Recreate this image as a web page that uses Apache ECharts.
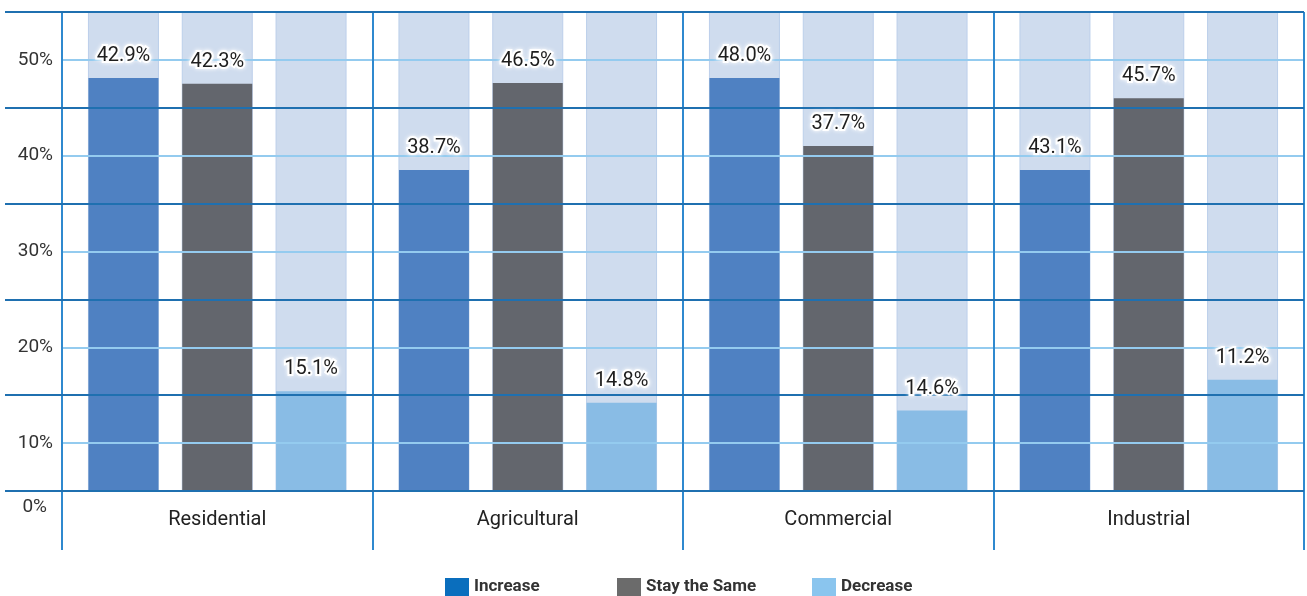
<!DOCTYPE html>
<html>
<head>
<meta charset="utf-8">
<script src="https://cdn.jsdelivr.net/npm/echarts@6/dist/echarts.min.js"></script>
<style>html,body{margin:0;padding:0;background:#fff}#c{width:1307px;height:596px}</style>
</head>
<body>
<div id="c"></div>
<script>
const categories = ['Residential', 'Agricultural', 'Commercial', 'Industrial'];
const seriesNames = ['Increase', 'Stay the Same', 'Decrease'];
// bar heights as drawn in the picture (percent)
const increaseValues = [43.1, 33.5, 43.1, 33.5];
const stayValues = [42.5, 42.6, 36.0, 41.0];
const decreaseValues = [10.4, 9.2, 8.4, 11.6];
// label texts as printed in the picture
const increaseLabels = ['42.9%', '38.7%', '48.0%', '43.1%'];
const stayLabels = ['42.3%', '46.5%', '37.7%', '45.7%'];
const decreaseLabels = ['15.1%', '14.8%', '14.6%', '11.2%'];

const barColors = ['#4f81c2', '#63666d', '#89bce5'];
const legendColors = ['#0a6ebd', '#6b6b6b', '#8ac5ee'];
const values = [increaseValues, stayValues, decreaseValues];
const labels = [increaseLabels, stayLabels, decreaseLabels];

const darkLine = '#1f70b0';
const lightLine = '#94cbef';
const midLine = '#2f89cf';

const chart = echarts.init(document.getElementById('c'));

const barSeries = values.map((vals, i) => ({
  name: seriesNames[i],
  type: 'bar',
  xAxisIndex: 0,
  yAxisIndex: 0,
  data: vals,
  barWidth: 70,
  barGap: '34%',
  z: 2,
  showBackground: true,
  backgroundStyle: { color: '#cfdcee', borderColor: '#bccfea', borderWidth: 1 },
  itemStyle: { color: barColors[i] },
  emphasis: { disabled: true },
  silent: true
}));

const labelSeries = values.map((vals, i) => ({
  name: 'lbl' + i,
  type: 'bar',
  xAxisIndex: 1,
  yAxisIndex: 0,
  data: vals,
  barWidth: 70,
  barGap: '34%',
  z: 6,
  itemStyle: { color: 'rgba(0,0,0,0)' },
  label: {
    show: true,
    position: 'top',
    distance: 12,
    formatter: p => labels[i][p.dataIndex],
    fontFamily: 'Roboto',
    fontSize: 20,
    color: '#1e1e1e',
    textBorderColor: '#fff',
    textBorderWidth: 4,
    textShadowColor: '#fff',
    textShadowBlur: 4
  },
  emphasis: { disabled: true },
  silent: true
}));

function mkLegend(i, left) {
  return {
    left: left,
    top: 578,
    padding: 0,
    itemWidth: 24,
    itemHeight: 18,
    itemGap: 10,
    icon: 'rect',
    selectedMode: false,
    data: [{ name: seriesNames[i], itemStyle: { color: legendColors[i] } }],
    textStyle: { fontFamily: 'Roboto', fontWeight: 'bold', fontSize: 17, color: '#333' }
  };
}

chart.setOption({
  animation: false,
  grid: { left: 62, right: 3, top: 12, bottom: 105, containLabel: false },
  legend: [mkLegend(0, 445), mkLegend(1, 617), mkLegend(2, 812)],
  xAxis: [
    {
      type: 'category',
      data: categories,
      z: 3,
      axisLine: { show: false },
      axisTick: { show: true, length: 59, alignWithLabel: false, lineStyle: { color: midLine, width: 2 } },
      splitLine: { show: true, lineStyle: { color: midLine, width: 2 } },
      axisLabel: { fontFamily: 'Roboto', fontSize: 20, color: '#222', margin: 19 }
    },
    {
      type: 'category',
      data: categories,
      show: false
    }
  ],
  yAxis: [
    {
      type: 'value',
      min: 0,
      max: 50,
      interval: 5,
      z: 3,
      axisLine: { show: true, lineStyle: { color: midLine, width: 2 } },
      axisTick: { show: false },
      splitLine: { show: true, lineStyle: { color: ['rgba(0,0,0,0)', lightLine], width: 2 } },
      axisLabel: {
        margin: 9,
        fontFamily: 'Roboto',
        fontSize: 19,
        color: '#333',
        formatter: v => (v % 10 === 5 ? (v + 5) + '%' : '')
      }
    },
    {
      type: 'value',
      min: 0,
      max: 50,
      interval: 10,
      position: 'left',
      z: 4,
      axisLine: { show: false },
      axisTick: { show: true, length: 57, lineStyle: { color: darkLine, width: 2 } },
      splitLine: { show: true, lineStyle: { color: darkLine, width: 2 } },
      axisLabel: {
        show: true,
        showMinLabel: true,
        margin: 15,
        fontFamily: 'Roboto',
        fontSize: 19,
        color: '#333',
        verticalAlign: 'top',
        padding: [7, 0, 0, 0],
        formatter: v => (v === 0 ? '0%' : '')
      }
    }
  ],
  series: barSeries.concat(labelSeries)
});
</script>
</body>
</html>
